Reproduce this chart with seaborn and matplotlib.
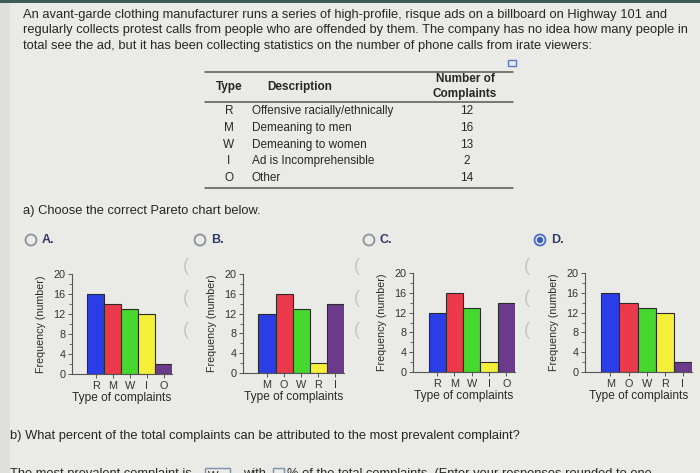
import matplotlib
matplotlib.use("Agg")
import matplotlib.pyplot as plt
from matplotlib.patches import Circle, Rectangle
from matplotlib.transforms import IdentityTransform
from matplotlib.ticker import MultipleLocator
import seaborn as sns

# ---------------- data ----------------
table_types = ["R", "M", "W", "I", "O"]
table_desc = ["Offensive racially/ethnically", "Demeaning to men", "Demeaning to women",
              "Ad is Incomprehensible", "Other"]
table_counts = [12, 16, 13, 2, 14]

labels_a = ["R", "M", "W", "I", "O"]
values_a = [16, 14, 13, 12, 2]
labels_b = ["M", "O", "W", "R", "I"]
values_b = [12, 16, 13, 2, 14]
labels_c = ["R", "M", "W", "I", "O"]
values_c = [12, 16, 13, 2, 14]
labels_d = ["M", "O", "W", "R", "I"]
values_d = [16, 14, 13, 12, 2]
bar_colors = ["#2a3de6", "#ec3a4c", "#46d82e", "#f4f03a", "#6b3a8c"]
option_names = ["A.", "B.", "C.", "D."]
y_ticks = [0, 4, 8, 12, 16, 20]

sns.set_style("ticks")
plt.rcParams["font.family"] = ["Liberation Sans", "DejaVu Sans"]

W, H = 700, 473
BG = "#eaebe7"
TXT = "#262626"
fig = plt.figure(figsize=(W / 100, H / 100), dpi=100)
fig.patch.set_facecolor(BG)


def fx(x):
    return x / W


def fy(y):
    return 1 - y / H


def txt(x, y, s, size=10, **kw):
    kw.setdefault("color", TXT)
    kw.setdefault("va", "center")
    return fig.text(fx(x), fy(y), s, fontsize=size, **kw)


# screen frame details
fig.add_artist(Rectangle((0, fy(3)), 1, 3 / H, transform=fig.transFigure,
                         color="#3f5a58", lw=0))
fig.add_artist(Rectangle((0, 0), fx(10), fy(3), transform=fig.transFigure,
                         color="#dfe0dc", lw=0))

PARA = 9.3
para = [
    "An avant-garde clothing manufacturer runs a series of high-profile, risque ads on a billboard on Highway 101 and",
    "regularly collects protest calls from people who are offended by them. The company has no idea how many people in",
    "total see the ad, but it has been collecting statistics on the number of phone calls from irate viewers:",
]
for i, line in enumerate(para):
    txt(23, 15 + i * 15.5, line, size=PARA)

# table
for yy in [72, 102, 188]:
    fig.add_artist(plt.Line2D([fx(205), fx(513)], [fy(yy), fy(yy)], color="#555", lw=1.1))
fig.add_artist(Rectangle((508, H - 66), 8, 6, transform=IdentityTransform(),
                         fill=False, ec="#5a78c8", lw=1))
TS = 8.5
txt(229, 87, "Type", size=TS, ha="center", weight="bold")
txt(300, 87, "Description", size=TS, ha="center", weight="bold")
txt(465, 79, "Number of", size=TS, ha="center", weight="bold")
txt(465, 94, "Complaints", size=TS, ha="center", weight="bold")
for i, (t, d, c) in enumerate(zip(table_types, table_desc, table_counts)):
    yy = 111 + i * 16.8
    txt(229, yy, t, size=TS, ha="center")
    txt(252, yy, d, size=TS)
    txt(467, yy, str(c), size=TS, ha="center")

txt(23, 211, "a) Choose the correct Pareto chart below.", size=PARA)

# radio buttons
radio_x = [31, 200, 369, 540]
for i, (rx, name) in enumerate(zip(radio_x, option_names)):
    selected = i == 3
    ring = "#4a6cc4" if selected else "#8d929b"
    fig.add_artist(Circle((rx, H - 240), 5.5, transform=IdentityTransform(),
                          fill=False, ec=ring, lw=1.3))
    if selected:
        fig.add_artist(Circle((rx, H - 240), 3.2, transform=IdentityTransform(),
                              color="#3f5fb8", lw=0))
    txt(rx + 11, 240, name, size=9, weight="bold", color="#2d3a66")

# faint UI brackets
for bx in [186, 357, 527]:
    for by in [266, 298, 330]:
        txt(bx, by, "(", size=13, color="#c4c6c4", ha="center")

# charts
panels = [
    (labels_a, values_a, 72, 172, 274, 374),
    (labels_b, values_b, 243, 344, 274, 373),
    (labels_c, values_c, 413, 515, 273, 372),
    (labels_d, values_d, 585, 692, 273, 372),
]
for labels, values, l, r, t, b in panels:
    ax = fig.add_axes([fx(l), fy(b), fx(r - l), (b - t) / H])
    ax.set_facecolor("none")
    sns.barplot(x=labels, y=values, hue=labels, palette=bar_colors, width=1.0,
                edgecolor="#2b2b2b", linewidth=0.8, legend=False, ax=ax, saturation=1)
    ax.set_xlim(-1.4, 4.5)
    ax.set_ylim(0, 20)
    ax.set_yticks(y_ticks)
    ax.yaxis.set_minor_locator(MultipleLocator(2))
    for side in ["top", "right"]:
        ax.spines[side].set_visible(False)
    for side in ["left", "bottom"]:
        ax.spines[side].set_color("#555")
        ax.spines[side].set_linewidth(0.8)
    ax.tick_params(axis="both", which="major", length=3, width=0.7, color="#555",
                   labelsize=7.8, labelcolor="#333", pad=1.5)
    ax.tick_params(axis="y", which="minor", length=2, width=0.6, color="#555")
    ax.tick_params(axis="x", pad=2)
    ax.set_xlabel("Type of complaints", fontsize=8.6, color="#2a2a2a")
    ax.set_ylabel("Frequency (number)", fontsize=7.7, color="#2a2a2a")
    wpx, hpx = r - l, b - t
    ax.xaxis.set_label_coords(0.5, -18 / hpx)
    ax.yaxis.set_label_coords(-31 / wpx, 0.5)
    ax.yaxis.label.set_va("center")

txt(10, 436, "b) What percent of the total complaints can be attributed to the most prevalent complaint?",
    size=PARA)
# last line, cut off at the bottom edge as in the screenshot
txt(10, 468, "The most prevalent complaint is", size=PARA, va="top")
fig.add_artist(Rectangle((205, -5), 25, 10, transform=IdentityTransform(),
                         fill=False, ec="#7f8fb0", lw=1))
txt(208, 471, "W", size=8, va="top")
txt(243, 468, "with", size=PARA, va="top")
fig.add_artist(Rectangle((273, -5), 11, 10, transform=IdentityTransform(),
                         fill=False, ec="#7f8fb0", lw=1))
txt(287, 468, "% of the total complaints. (Enter your responses rounded to one", size=PARA, va="top")

fig.savefig("out.png", dpi=100, facecolor=BG)
